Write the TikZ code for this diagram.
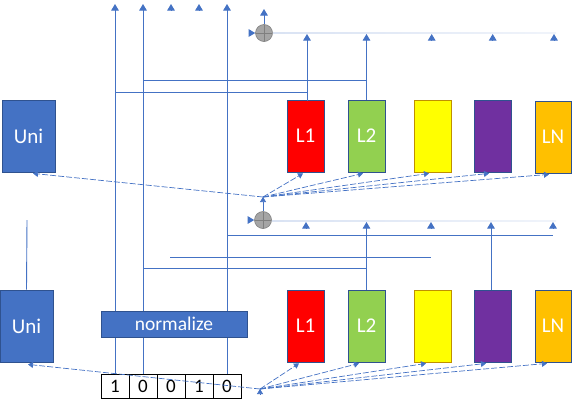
\documentclass[tikz,border=0pt]{standalone}
\usepackage{fontspec}
\setmainfont{Carlito}
\usetikzlibrary{arrows.meta,calc}
\definecolor{ublue}{HTML}{4472C4}
\definecolor{bdark}{HTML}{2F528F}
\definecolor{lgreen}{HTML}{92D050}
\definecolor{lpurple}{HTML}{7030A0}
\definecolor{lorange}{HTML}{FFC000}
\definecolor{lyellow}{HTML}{FFFF00}
\definecolor{ydark}{HTML}{BF9000}
\definecolor{cgray}{HTML}{A5A5A5}
\definecolor{cgraydark}{HTML}{7F7F7F}
\begin{document}
\begin{tikzpicture}[x=1pt,y=-1pt,
  box/.style={draw=bdark, line width=0.8pt, minimum width=37pt, minimum height=72pt, inner sep=0pt, text=white, font=\fontsize{21}{24}\selectfont},
  wire/.style={draw=ublue, line width=0.9pt},
  arr/.style={wire, -{Triangle[width=7.5pt,length=6.5pt]}},
  dtip/.style={draw=ublue, line width=0.7pt, -{Triangle[width=6pt,length=5pt]}},
  dconn/.style={dtip, dash pattern=on 6pt off 2pt},
  sumnode/.style={circle, draw=cgraydark, fill=cgray, line width=0.6pt, minimum size=17pt, inner sep=0pt,
    path picture={\draw[cgraydark, line width=0.6pt] (path picture bounding box.north) -- (path picture bounding box.south) (path picture bounding box.west) -- (path picture bounding box.east);}},
  bit/.style={draw=black, line width=0.8pt, minimum width=28pt, minimum height=24pt, inner sep=0pt, font=\fontsize{19}{22}\selectfont},
  faint/.style={left color=ublue!20, middle color=ublue!80, right color=ublue!8, draw=none},
]
\useasboundingbox (0,0) rectangle (572,400);

% top row boxes
\node[box, fill=ublue, minimum width=53pt] (unia) at (28.5,136) {Uni};
\node[box, fill=red] (l1a) at (305.5,136) {L1};
\node[box, fill=lgreen] (l2a) at (366.5,136) {L2};
\node[box, fill=lyellow, draw=ydark] (ya) at (432.5,136) {};
\node[box, fill=lpurple] (pa) at (493,136) {};
\node[box, fill=lorange, minimum width=36pt] (lna) at (553,137) {LN};

% bottom row boxes
\node[box, fill=ublue, minimum width=53pt] (unib) at (26.5,326) {Uni};
\node[box, fill=red] (l1b) at (305.5,326) {L1};
\node[box, fill=lgreen] (l2b) at (366.5,326) {L2};
\node[box, fill=lyellow, draw=ydark] (yb) at (432.5,326) {};
\node[box, fill=lpurple] (pb) at (493,326) {};
\node[box, fill=lorange, minimum width=36pt] (lnb) at (553,326) {LN};

% sum nodes
\node[sumnode] (s1) at (264,33) {};
\node[sumnode] (s2) at (263,220) {};

% bits
\node[bit] (b1) at (115,386) {1};
\node[bit] (b2) at (143,386) {0};
\node[bit] (b3) at (171,386) {0};
\node[bit] (b4) at (199,386) {1};
\node[bit] (b5) at (227,386) {0};

% coordinates
\coordinate (t1) at (115,4);
\coordinate (t2) at (143,4);
\coordinate (t3) at (171,4);
\coordinate (t4) at (199,4);
\coordinate (t5) at (227,4);
\coordinate (hub1) at (263,197);
\coordinate (hub2) at (260,389);

% vertical lines from bits
\draw[arr] (b1.north) -- (t1);
\draw[arr] (b2.north) -- (t2);
\draw[arr] (b5.north) -- (t5);
\draw[arr] ($(t3)+(0,6.5)$) -- (t3);
\draw[arr] ($(t4)+(0,6.5)$) -- (t4);

% top block wires
\draw[wire] (143,80) -- (366.5,80);
\draw[wire] (115,92) -- (307,92);
\draw[arr] (307,101) -- (307,34);
\draw[arr] (l2a.north) -- (366.5,34);
\draw[arr] (431.7,40.5) -- (431.7,34);
\draw[arr] (492.7,40.5) -- (492.7,34);
\draw[arr] (554,40.5) -- (554,34);
\shade[faint] (s1.east |- 0,32) rectangle (556,33.2);
\draw[arr] (s1.north) -- (264,9);
\draw[arr] ($(s1.west)+(-6.5,0)$) -- (s1.west);

% bottom block wires
\draw[wire] (227,235) -- (553,235);
\draw[wire] (170,257) -- (431,257);
\draw[wire] (143,268) -- (366.5,268);
\draw[arr] (l2b.north) -- (366.5,222);
\draw[arr] (491,290) -- (491,222);
\draw[arr] (306,228.5) -- (306,222);
\draw[arr] (431,228.5) -- (431,222);
\draw[arr] (553,228.5) -- (553,222);
\shade[faint] (s2.east |- 0,220.5) rectangle (556,221.7);
\draw[arr] ($(s2.west)+(-6.5,0)$) -- (s2.west);
\draw[wire] (unib.north) -- (27,220);

% normalize (covers the lines)
\node[draw=bdark, fill=ublue, line width=0.8pt, minimum width=146pt, minimum height=26pt, inner sep=0pt, text=white, font=\fontsize{19.5}{22}\selectfont] (norm) at (174,324) {normalize};

% hubs
\draw[dtip] (s2.north) -- (hub1);
\draw[dtip] ($(hub2)+(0,5)$) -- (hub2);

% dashed connectors, top
\draw[dconn] (hub1) -- ($(unia.south)+(4.5,1)$);
\draw[dconn] (hub1) -- ($(l1a.south)+(-2.5,1)$);
\draw[dconn] (hub1) -- ($(l2a.south)+(-3.5,1)$);
\draw[dconn] (hub1) -- ($(ya.south)+(-3.5,1)$);
\draw[dconn] (hub1) -- ($(pa.south)+(-4,1)$);
\draw[dconn] (hub1) -- ($(lna.south)+(-4,1)$);

% dashed connectors, bottom
\draw[dconn] (hub2) -- ($(unib.south)+(1.5,2)$);
\draw[dconn] (hub2) -- ($(l1b.south)+(-6.5,1)$);
\draw[dconn] (hub2) -- ($(l2b.south)+(-7.5,1)$);
\draw[dconn] (hub2) -- ($(yb.south)+(-6.5,1)$);
\draw[dconn] (hub2) -- ($(pb.south)+(-7,1)$);
\draw[dconn] (hub2) -- ($(lnb.south)+(-6,1)$);
\end{tikzpicture}
\end{document}
